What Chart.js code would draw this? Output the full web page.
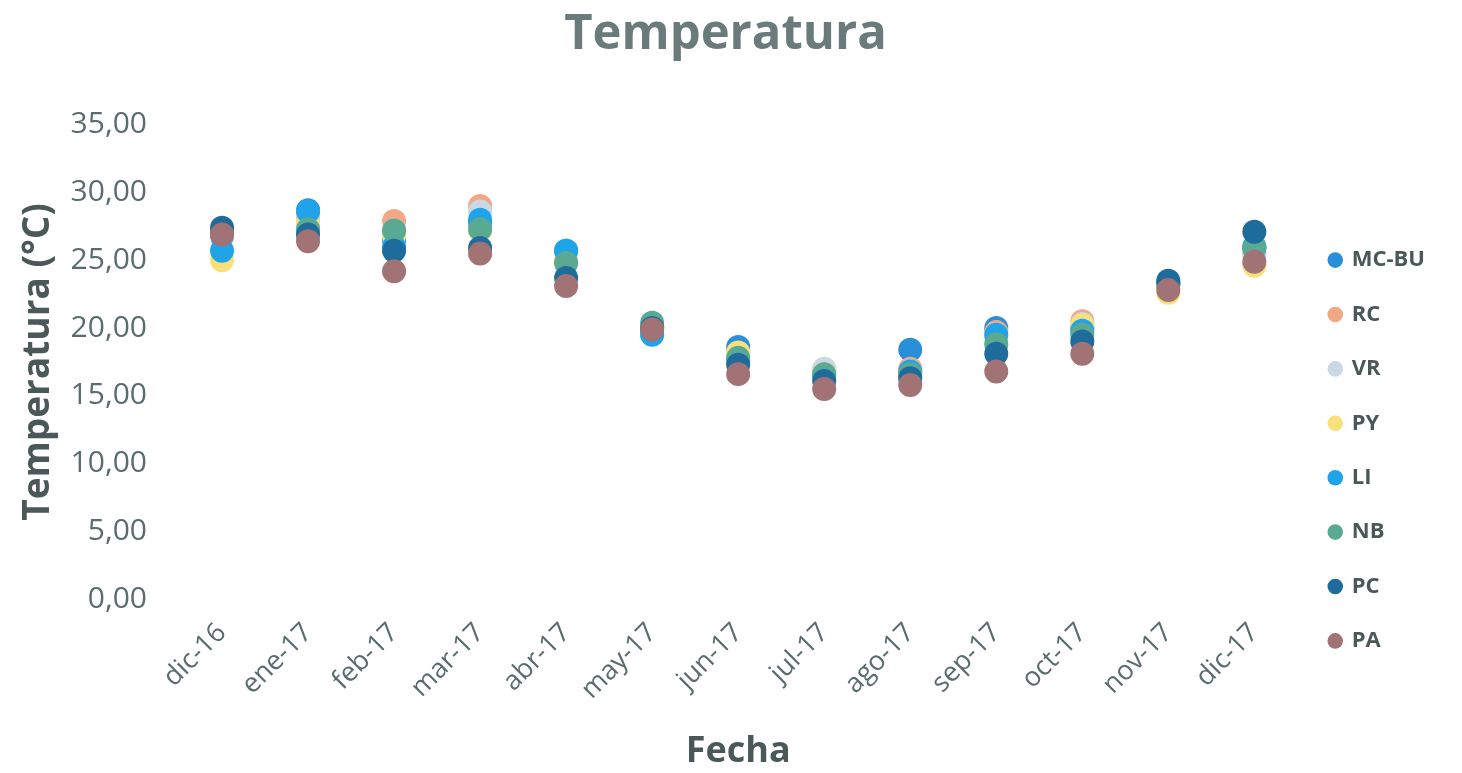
<!DOCTYPE html>
<html>
<head>
<meta charset="utf-8">
<script src="https://cdn.jsdelivr.net/npm/chart.js@4/dist/chart.umd.min.js"></script>
<style>
  html, body { margin: 0; padding: 0; background: #ffffff; }
  #wrap { width: 1462px; height: 773px; }
</style>
</head>
<body>
<div id="wrap"><canvas id="tempChart" width="1462" height="773"></canvas></div>
<script>
// Categories (months)
const months = ['dic-16', 'ene-17', 'feb-17', 'mar-17', 'abr-17', 'may-17', 'jun-17',
  'jul-17', 'ago-17', 'sep-17', 'oct-17', 'nov-17', 'dic-17'];

// Series values (°C)
const mcBu = [26.8, 28.7, 26.5, 27.8, 25.7, 19.6, 18.6, 16.8, 18.4, 20.0, 20.0, 23.3, 26.0];
const rc   = [27.0, 28.2, 27.9, 29.0, 24.9, 20.1, 18.1, 16.9, 17.0, 19.7, 20.5, 23.2, 25.5];
const vr   = [26.9, 28.4, 27.2, 28.6, 24.9, 20.0, 18.0, 17.0, 16.8, 19.5, 20.3, 23.2, 25.4];
const py   = [25.0, 27.7, 26.8, 27.2, 24.8, 20.0, 18.2, 16.6, 16.5, 19.2, 20.2, 22.6, 24.6];
const li   = [25.7, 28.6, 26.0, 28.0, 25.7, 19.5, 17.6, 16.5, 16.8, 19.5, 19.8, 23.3, 25.9];
const nb   = [27.0, 27.3, 27.2, 27.3, 24.8, 20.4, 17.8, 16.6, 16.6, 18.8, 19.5, 23.2, 25.9];
const pc   = [27.4, 26.9, 25.7, 25.9, 23.7, 20.0, 17.3, 16.1, 16.3, 18.1, 19.0, 23.5, 27.1];
const pa   = [26.9, 26.4, 24.2, 25.5, 23.1, 19.9, 16.6, 15.5, 15.8, 16.8, 18.1, 22.8, 24.9];

const seriesNames = ['MC-BU', 'RC', 'VR', 'PY', 'LI', 'NB', 'PC', 'PA'];
const seriesData = [mcBu, rc, vr, py, li, nb, pc, pa];
const seriesColors = ['#2a8fda', '#f2a785', '#c9d8e2', '#f8e07c', '#1fa4ea', '#5aa993', '#1e6c9c', '#a27375'];

// Y tick labels
const yTicks = [0, 5, 10, 15, 20, 25, 30, 35];

const tickColor = '#5a6c6e';
const labelColor = '#4b5858';
const fontFamily = '"Open Sans", sans-serif';

const datasets = seriesNames.map((name, i) => ({
  label: name,
  data: seriesData[i],
  showLine: false,
  backgroundColor: seriesColors[i],
  borderColor: seriesColors[i],
  borderWidth: 0,
  pointRadius: 12,
  pointHoverRadius: 12,
  // later series sit on top, like the original
  order: seriesNames.length - i
}));

const ctx = document.getElementById('tempChart').getContext('2d');
new Chart(ctx, {
  type: 'line',
  data: { labels: months, datasets: datasets },
  options: {
    responsive: false,
    animation: false,
    layout: { padding: { top: 4, right: 27, bottom: 0, left: 16 } },
    plugins: {
      title: {
        display: true,
        text: 'Temperatura',
        color: '#6b7a7a',
        font: { family: fontFamily, size: 49, weight: 'bold' },
        padding: { top: 2, bottom: 60 }
      },
      legend: {
        position: 'right',
        // empty title only pushes the legend items down
        title: { display: true, text: ' ', font: { size: 10 }, padding: 56 },
        labels: {
          usePointStyle: true,
          boxWidth: 11,
          boxHeight: 11,
          padding: 32.4,
          color: labelColor,
          font: { family: fontFamily, size: 22, weight: 'bold' },
          sort: (a, b) => a.datasetIndex - b.datasetIndex
        }
      },
      tooltip: { enabled: false }
    },
    scales: {
      x: {
        offset: true,
        grid: { display: false },
        border: { display: false },
        // rotated labels should not push the plot area to the right
        afterFit: axis => { axis.paddingLeft = 0; axis.paddingRight = 0; },
        ticks: {
          color: tickColor,
          font: { family: fontFamily, size: 27 },
          maxRotation: 45,
          minRotation: 45,
          padding: 10
        },
        title: {
          display: true,
          text: 'Fecha',
          color: labelColor,
          font: { family: fontFamily, size: 36, weight: 'bold' },
          padding: { top: 14, bottom: 0 }
        }
      },
      y: {
        min: 0,
        max: 35,
        grid: { display: false },
        border: { display: false },
        afterBuildTicks: axis => { axis.ticks = yTicks.map(v => ({ value: v })); },
        afterFit: axis => { axis.width = 163; },
        ticks: {
          color: tickColor,
          font: { family: fontFamily, size: 30 },
          padding: 24,
          callback: v => v.toFixed(2).replace('.', ',')
        },
        title: {
          display: true,
          text: 'Temperatura (°C)',
          color: labelColor,
          font: { family: fontFamily, size: 37, weight: 'bold' },
          padding: { top: 0, bottom: 11 }
        }
      }
    }
  }
});
</script>
</body>
</html>
